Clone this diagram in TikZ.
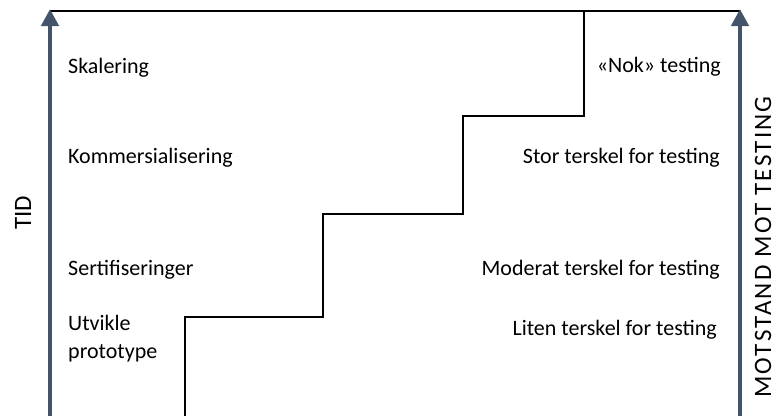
\documentclass[tikz,border=0pt]{standalone}
\usepackage{fontspec}
\setmainfont{Carlito}
\usetikzlibrary{arrows.meta}
\definecolor{axisblue}{HTML}{44546A}
\begin{document}
\begin{tikzpicture}[x=1pt,y=-1pt,
  axisarrow/.style={draw=axisblue,line width=4.5pt,-{Triangle[width=17pt,length=17pt]}},
  stair/.style={draw=black,line width=1.3pt},
  lbl/.style={font=\fontsize{22}{28}\selectfont,inner sep=0pt},
  axlbl/.style={font=\fontsize{25}{30}\selectfont,inner sep=0pt}]
\useasboundingbox (0,0) rectangle (778,416);
% coordinates
\coordinate (lb) at (50,416);
\coordinate (lt) at (50,9);
\coordinate (rb) at (740,416);
\coordinate (rt) at (740,9);
\coordinate (tl) at (50,11);
\coordinate (tr) at (740,11);
\coordinate (s0) at (185,416);
\coordinate (s1) at (185,317);
\coordinate (s2) at (323,317);
\coordinate (s3) at (323,214);
\coordinate (s4) at (463,214);
\coordinate (s5) at (463,116);
\coordinate (s6) at (584,116);
\coordinate (s7) at (584,11);
% lines
\draw[stair] (tl) -- (tr);
\draw[stair] (s0) -- (s1) -- (s2) -- (s3) -- (s4) -- (s5) -- (s6) -- (s7);
\draw[axisarrow] (lb) -- (lt);
\draw[axisarrow] (rb) -- (rt);
% left labels
\node[lbl,anchor=base west] (skal) at (68,73) {Skalering};
\node[lbl,anchor=base west] (komm) at (68,163) {Kommersialisering};
\node[lbl,anchor=base west] (sert) at (68,275) {Sertifiseringer};
\node[lbl,anchor=base west,align=left] (utv) at (68,358) {Utvikle\\prototype};
% right labels
\node[lbl,anchor=base east] (nok) at (721,72) {«Nok» testing};
\node[lbl,anchor=base east] (stor) at (720,163) {Stor terskel for testing};
\node[lbl,anchor=base east] (mod) at (720,275) {Moderat terskel for testing};
\node[lbl,anchor=base east] (lit) at (717,335) {Liten terskel for testing};
% axis labels
\node[axlbl,rotate=90] (tid) at (23,213) {TID};
\node[axlbl,rotate=90,font=\fontsize{25}{30}\selectfont\addfontfeatures{LetterSpace=9}] (mot) at (763,247) {MOTSTAND MOT TESTING};
\end{tikzpicture}
\end{document}
